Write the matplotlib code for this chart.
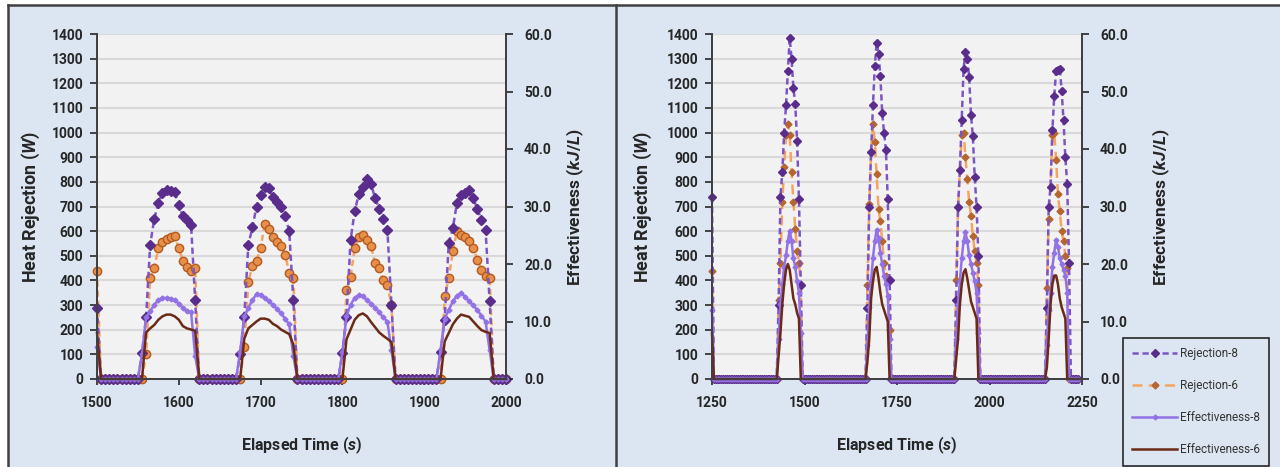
import matplotlib
matplotlib.use("Agg")
import matplotlib.pyplot as plt
from matplotlib.lines import Line2D
from matplotlib.patches import Rectangle
from matplotlib.ticker import FormatStrFormatter, MultipleLocator
import numpy as np

FONT = "Roboto"
plt.rcParams["font.family"] = [FONT, "DejaVu Sans"]
plt.rcParams["font.weight"] = "bold"
plt.rcParams["mathtext.fontset"] = "custom"
plt.rcParams["mathtext.it"] = f"{FONT}:italic:bold"
plt.rcParams["mathtext.rm"] = f"{FONT}:bold"

T_STEP = 5  # logger interval [s]

# ---- short test window, 1500-2000 s ----
LEFT_T0, LEFT_T1 = 1500, 2000
LEFT_CYCLE_STARTS = [1500, 1555, 1675, 1795, 1920]
LEFT_REJ8 = [
    [290],
    [105, 250, 545, 650, 715, 755, 765, 762, 758, 705, 660, 645, 625, 320],
    [100, 250, 545, 615, 700, 745, 780, 775, 740, 720, 700, 660, 600, 320],
    [0, 105, 250, 565, 680, 750, 780, 810, 790, 735, 690, 650, 605, 300],
    [110, 240, 551, 612, 714, 745, 754, 765, 735, 688, 647, 606, 315],
]
LEFT_REJ6 = [
    [440],
    [0, 100, 410, 450, 530, 555, 570, 578, 580, 530, 480, 455, 440, 450],
    [0, 130, 395, 460, 480, 530, 630, 610, 575, 555, 540, 505, 430, 410],
    [0, 0, 360, 415, 530, 575, 585, 565, 540, 470, 450, 400, 380, 300],
    [0, 335, 410, 518, 599, 585, 578, 560, 530, 484, 443, 419, 410],
]
LEFT_EFF8 = [
    [5.6],
    [4.3, 10.7, 11.8, 12.9, 13.7, 14.1, 14.1, 14.0, 13.7, 13.1, 12.4, 11.8, 11.6, 4.0],
    [4.7, 10.9, 12.4, 13.7, 14.8, 14.6, 14.1, 13.5, 12.9, 12.2, 11.4, 10.5, 9.5, 4.0],
    [0, 4.7, 10.9, 12.9, 14.1, 14.6, 14.4, 13.7, 13.1, 12.4, 11.6, 10.7, 10.0, 5.0],
    [5.0, 10.5, 12.0, 13.5, 14.5, 15.0, 14.3, 13.5, 12.8, 12.0, 11.0, 10.0, 5.0],
]
LEFT_EFF6 = [
    [8.0],
    [0, 8.1, 8.8, 9.4, 10.3, 10.9, 11.2, 11.2, 10.9, 10.3, 9.2, 8.8, 8.6, 8.4],
    [0, 7.0, 8.8, 9.4, 10.0, 10.5, 10.5, 10.3, 9.6, 9.2, 8.6, 8.2, 7.8, 6.0],
    [0, 0, 6.9, 8.6, 10.3, 11.1, 11.4, 10.9, 9.9, 9.0, 8.1, 7.5, 7.0, 6.4],
    [0, 6.5, 8.0, 9.5, 10.5, 11.2, 11.0, 10.8, 10.0, 9.2, 8.5, 8.2, 8.0],
]

# ---- long test window, 1250-2250 s ----
RIGHT_T0, RIGHT_T1 = 1250, 2240
RIGHT_CYCLE_STARTS = [1250, 1430, 1670, 1910, 2155]
RIGHT_REJ8 = [
    [740],
    [300, 740, 840, 1000, 1110, 1250, 1385, 1300, 1180, 1115, 965, 730, 380],
    [290, 700, 920, 1110, 1270, 1365, 1320, 1230, 1080, 1000, 930, 730, 400],
    [320, 700, 850, 1050, 1260, 1325, 1300, 1225, 1070, 985, 820, 700, 500],
    [290, 700, 780, 1010, 1150, 1250, 1255, 1260, 1170, 1050, 900, 790, 470],
]
RIGHT_REJ6 = [
    [440],
    [320, 470, 720, 860, 990, 1035, 990, 840, 720, 610, 520, 470, 380],
    [380, 710, 920, 1035, 960, 830, 690, 640, 560, 470, 420, 400, 200],
    [400, 700, 850, 990, 1000, 900, 810, 720, 660, 580, 520, 470, 380],
    [370, 650, 780, 990, 1000, 890, 750, 680, 600, 560, 500, 450, 0],
]
RIGHT_EFF8 = [
    [12.0],
    [7.0, 13.0, 16.5, 19.5, 21.5, 24.0, 25.8, 24.0, 21.0, 19.5, 17.0, 15.0, 8.0],
    [6.0, 12.5, 17.0, 21.0, 24.0, 26.0, 24.5, 22.0, 20.0, 18.0, 16.5, 14.5, 7.0],
    [7.0, 13.0, 17.0, 21.0, 24.0, 25.5, 24.0, 21.5, 20.0, 18.5, 17.0, 15.0, 8.0],
    [6.0, 12.0, 15.0, 19.5, 22.0, 24.2, 23.0, 21.0, 20.0, 19.0, 18.0, 15.0, 0],
]
RIGHT_EFF6 = [
    [8.0],
    [4.0, 8.0, 13.0, 16.5, 19.0, 20.0, 19.0, 16.5, 14.0, 13.0, 11.5, 10.5, 0],
    [3.0, 7.0, 14.0, 17.0, 19.0, 19.5, 17.5, 15.0, 13.0, 12.0, 11.0, 10.0, 0],
    [3.5, 7.0, 13.0, 16.5, 18.5, 19.1, 17.5, 15.5, 13.5, 12.5, 11.5, 10.5, 0],
    [2.0, 7.0, 13.0, 16.5, 18.0, 18.0, 16.5, 14.0, 12.5, 11.5, 10.5, 0, 0],
]

SERIES_LABELS = ["Rejection-8", "Rejection-6", "Effectiveness-8", "Effectiveness-6"]

PANEL_BG = "#dce6f2"
PLOT_BG = "#f2f2f2"
GRID = "#d9d9d9"
FRAME = "#404040"
TEXT = "#262626"
C_REJ8_LINE, C_REJ8_MK = "#7b55c4", "#5a2d8c"
C_REJ6_LINE = "#f4a460"
C_EFF8 = "#9372e6"
C_EFF6 = "#6b2a16"


def series(t0, t1, starts, chunks):
    """Zero baseline with each recorded on-cycle dropped in at its start time."""
    t = np.arange(t0, t1 + 1, T_STEP)
    y = np.zeros(len(t))
    for s, vals in zip(starts, chunks):
        i = (s - t0) // T_STEP
        y[i:i + len(vals)] = vals
    return t, y


def style_axes(ax, ax2, xlim, xstep):
    ax.set_facecolor(PLOT_BG)
    ax.set_xlim(*xlim)
    ax.set_ylim(0, 1400)
    ax2.set_ylim(0, 60)
    ax.xaxis.set_major_locator(MultipleLocator(xstep))
    ax.yaxis.set_major_locator(MultipleLocator(100))
    ax2.yaxis.set_major_locator(MultipleLocator(10))
    ax2.yaxis.set_major_formatter(FormatStrFormatter("%.1f"))
    ax.yaxis.grid(True, color=GRID, lw=1.5)
    ax.set_axisbelow(True)
    for a in (ax, ax2):
        a.spines["top"].set_visible(False)
        for side in ("left", "right", "bottom"):
            a.spines[side].set_color(FRAME)
            a.spines[side].set_linewidth(1.3)
    ax.tick_params(axis="y", direction="out", length=5, width=1.2, pad=5,
                   labelsize=10, colors=TEXT)
    ax.tick_params(axis="x", direction="out", length=4, width=1.2, pad=8,
                   labelsize=10, colors=TEXT)
    ax2.tick_params(axis="y", direction="out", length=5, width=1.2, pad=8,
                    labelsize=10, colors=TEXT)
    for lab in ax.get_xticklabels() + ax.get_yticklabels() + ax2.get_yticklabels():
        lab.set_fontweight("bold")
    ax.set_xlabel(r"Elapsed Time ($s$)", fontsize=11.5, fontweight="bold", color=TEXT)
    ax.xaxis.set_label_coords(0.5, -0.162)
    ax.set_ylabel(r"Heat Rejection ($W$)", fontsize=13, fontweight="bold", color=TEXT)
    ax2.set_ylabel(r"Effectiveness ($kJ/L$)", fontsize=12.5, fontweight="bold", color=TEXT)


fig = plt.figure(figsize=(12.8, 4.67), dpi=100)
W, H = 1280, 467

# panel backgrounds and frame lines
fig.patches.append(Rectangle((8 / W, 0), 1, 1 - 5 / H, transform=fig.transFigure,
                             facecolor=PANEL_BG, edgecolor="none", zorder=-10))
for xs, ys in [([8 / W, 1], [1 - 5 / H] * 2), ([8 / W] * 2, [0, 1 - 5 / H]),
               ([616 / W] * 2, [0, 1 - 5 / H])]:
    fig.add_artist(Line2D(xs, ys, transform=fig.transFigure, color=FRAME, lw=1.8))

bottom, height = (H - 379) / H, 345 / H
ax_l = fig.add_axes([97 / W, bottom, 409 / W, height])
ax_r = fig.add_axes([712 / W, bottom, 370 / W, height])
ax_l2 = ax_l.twinx()
ax_r2 = ax_r.twinx()

# left panel
t, r8 = series(LEFT_T0, LEFT_T1, LEFT_CYCLE_STARTS, LEFT_REJ8)
_, r6 = series(LEFT_T0, LEFT_T1, LEFT_CYCLE_STARTS, LEFT_REJ6)
_, e8 = series(LEFT_T0, LEFT_T1, LEFT_CYCLE_STARTS, LEFT_EFF8)
_, e6 = series(LEFT_T0, LEFT_T1, LEFT_CYCLE_STARTS, LEFT_EFF6)
ax_l.plot(t, r6, color=C_REJ6_LINE, lw=1.8, ls=(0, (2.5, 1.5)), marker="o", ms=6,
          mfc="#e8904a", mec="#b35a1f", mew=1.0, clip_on=False, zorder=2)
ax_l.plot(t, r8, color=C_REJ8_LINE, lw=1.8, ls=(0, (2.5, 1.5)), marker="D", ms=5,
          mfc=C_REJ8_MK, mec=C_REJ8_MK, clip_on=False, zorder=3)
ax_l2.plot(t, e8, color=C_EFF8, lw=1.8, marker="D", ms=2.5, mfc=C_EFF8, mec=C_EFF8,
           clip_on=False)
ax_l2.plot(t, e6, color=C_EFF6, lw=1.8, clip_on=False)
style_axes(ax_l, ax_l2, (1500, 2000), 100)
ax_l.yaxis.set_label_coords(-0.134, 0.5)
ax_l2.yaxis.set_label_coords(1.142, 0.5)

# right panel
t, r8 = series(RIGHT_T0, RIGHT_T1, RIGHT_CYCLE_STARTS, RIGHT_REJ8)
_, r6 = series(RIGHT_T0, RIGHT_T1, RIGHT_CYCLE_STARTS, RIGHT_REJ6)
_, e8 = series(RIGHT_T0, RIGHT_T1, RIGHT_CYCLE_STARTS, RIGHT_EFF8)
_, e6 = series(RIGHT_T0, RIGHT_T1, RIGHT_CYCLE_STARTS, RIGHT_EFF6)
h1, = ax_r.plot(t, r8, color=C_REJ8_LINE, lw=1.8, ls=(0, (2.5, 1.5)), marker="D",
                ms=4.5, mfc=C_REJ8_MK, mec=C_REJ8_MK, clip_on=False, zorder=3)
h2, = ax_r.plot(t, r6, color=C_REJ6_LINE, lw=1.8, ls=(0, (4, 2.5)), marker="D",
                ms=3.5, mfc="#b5652e", mec="#b5652e", clip_on=False, zorder=2)
h3, = ax_r2.plot(t, e8, color=C_EFF8, lw=1.8, marker="D", ms=2.5, mfc=C_EFF8,
                 mec=C_EFF8, clip_on=False)
h4, = ax_r2.plot(t, e6, color=C_EFF6, lw=1.8, clip_on=False)
style_axes(ax_r, ax_r2, (1250, 2250), 250)
ax_r.yaxis.set_label_coords(-0.157, 0.5)
ax_r2.yaxis.set_label_coords(1.186, 0.5)

leg = fig.legend([h1, h2, h3, h4], SERIES_LABELS, loc="upper left",
                 bbox_to_anchor=(1123 / W, 1 - 338 / H), frameon=True, fancybox=False,
                 facecolor=PANEL_BG, edgecolor="#262626", framealpha=1,
                 prop={"family": FONT, "weight": "normal", "size": 8.5},
                 handlelength=3.8, handletextpad=0.2, labelspacing=1.6,
                 borderpad=0.8, borderaxespad=0)
leg.get_frame().set_linewidth(1.2)
for txt in leg.get_texts():
    txt.set_color("#333333")

fig.savefig("out.png", dpi=100)
